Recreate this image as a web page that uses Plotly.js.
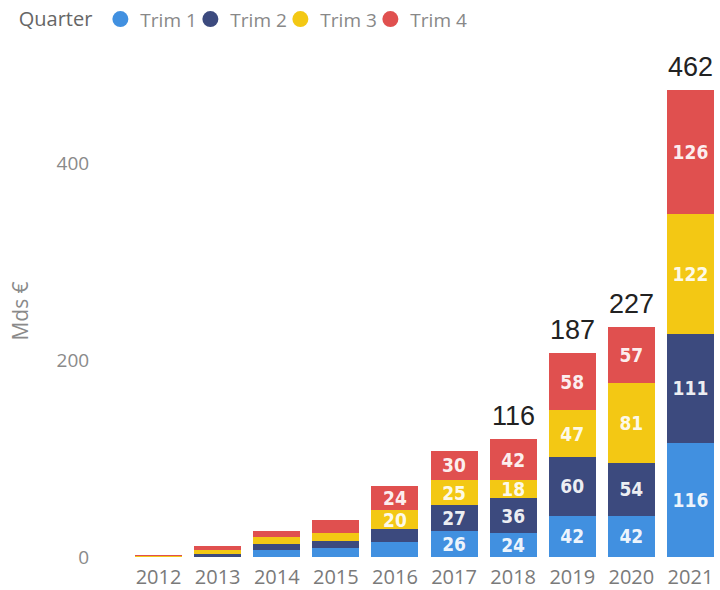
<!DOCTYPE html>
<html>
<head>
<meta charset="utf-8">
<script src="https://cdn.plot.ly/plotly-3.0.1.min.js"></script>
<style>html,body{margin:0;padding:0;background:#fff;}#chart{width:720px;height:590px;}</style>
</head>
<body>
<div id="chart"></div>
<script>
const years = ['2012','2013','2014','2015','2016','2017','2018','2019','2020','2021'];
const trim1 = [0.5, 1, 7, 9, 15, 26, 24, 42, 42, 116];
const trim2 = [0.5, 2, 6, 7, 13, 27, 36, 60, 54, 111];
const trim3 = [0.5, 4, 7, 8, 20, 25, 18, 47, 81, 122];
const trim4 = [0.5, 4, 6, 14, 24, 30, 42, 58, 57, 126];
const totals = [null, null, null, null, null, null, 116, 187, 227, 462];
const seriesNames = ['Trim 1', 'Trim 2', 'Trim 3', 'Trim 4'];
const seriesColors = ['#4190e0', '#3c4a7e', '#f3c814', '#e0504f'];
const seriesValues = [trim1, trim2, trim3, trim4];

const labelFont = {family: 'DejaVu Sans Condensed, Liberation Sans Narrow, Roboto, sans-serif', size: 19, color: 'rgba(255,255,255,0.92)', weight: 700};

const traces = [];
seriesValues.forEach((vals, i) => {
  traces.push({
    type: 'bar', name: seriesNames[i], x: years, y: vals,
    marker: {color: seriesColors[i]},
    text: vals.map(v => v >= 18 ? String(v) : ''),
    textposition: 'inside', insidetextanchor: 'middle',
    textfont: labelFont,
    hoverinfo: 'x+y+name', showlegend: false
  });
});
seriesNames.forEach((n, i) => {
  traces.push({
    type: 'scatter', mode: 'markers', name: n, x: [years[0]], y: [null],
    marker: {color: seriesColors[i], size: 18, symbol: 'circle'},
    showlegend: true, hoverinfo: 'skip',
    legendwidth: i === seriesNames.length - 1 ? 62 : 45
  });
});

const annotations = [];
years.forEach((yr, i) => {
  if (totals[i] === null) return;
  const top = trim1[i] + trim2[i] + trim3[i] + trim4[i];
  annotations.push({
    x: i, y: top, xref: 'x', yref: 'y', text: String(totals[i]),
    showarrow: false, yanchor: 'bottom', yshift: 6,
    font: {family: 'Liberation Sans, Arial, sans-serif', size: 27, color: '#222'}
  });
});

const layout = {
  width: 720, height: 590,
  margin: {l: 129, r: 0, t: 63, b: 33},
  paper_bgcolor: '#fff', plot_bgcolor: '#fff',
  barmode: 'stack', bargap: 0.205,
  font: {family: 'Open Sans, sans-serif', color: '#888'},
  uniformtext: {mode: 'show', minsize: 19},
  xaxis: {
    type: 'category', categoryorder: 'array', categoryarray: years, range: [-0.5, 9.5],
    showgrid: false, zeroline: false, showline: false,
    ticks: 'outside', ticklen: 2, tickcolor: 'rgba(0,0,0,0)',
    tickfont: {family: 'Open Sans, sans-serif', size: 20, color: '#7a7a7a'}
  },
  yaxis: {
    range: [0, 500], tickvals: [0, 200, 400], showgrid: false, zeroline: false, showline: false,
    ticks: 'outside', ticklen: 35, tickcolor: 'rgba(0,0,0,0)',
    tickfont: {family: 'Open Sans, sans-serif', size: 19, color: '#8a8a8a'},
    title: {text: 'Mds €', standoff: 22, font: {family: 'Open Sans, sans-serif', size: 21, color: '#8a8a8a'}}
  },
  showlegend: true,
  legend: {
    orientation: 'h', traceorder: 'normal', x: -0.19, xanchor: 'left', y: 1.093, yanchor: 'middle',
    font: {family: 'Open Sans, sans-serif', size: 19, color: '#888'},
    title: {text: 'Quarter', side: 'left', font: {family: 'Open Sans, sans-serif', size: 20, color: '#666'}},
    itemwidth: 30, bgcolor: 'rgba(0,0,0,0)'
  },
  annotations: annotations
};

Plotly.newPlot('chart', traces, layout, {displayModeBar: false, responsive: false});
</script>
</body>
</html>
